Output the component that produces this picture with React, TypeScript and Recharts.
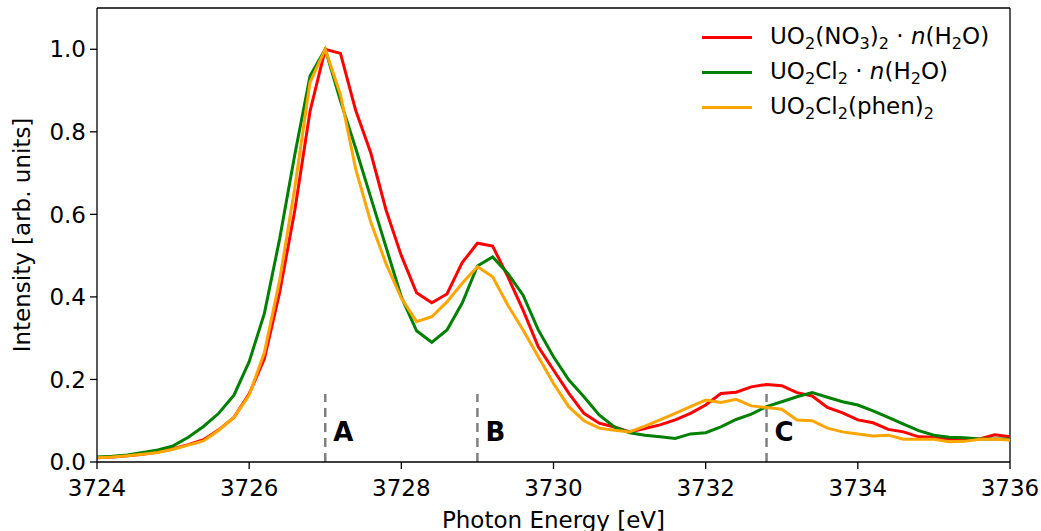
import React from "react";
import {
  LineChart,
  Line,
  XAxis,
  YAxis,
  ReferenceLine,
  ReferenceDot,
  Legend,
} from "recharts";

const FONT = "'DejaVu Sans', sans-serif";

// photon energy grid [eV]
const energy = [
  3724.0, 3724.2, 3724.4, 3724.6, 3724.8, 3725.0, 3725.2, 3725.4, 3725.6, 3725.8,
  3726.0, 3726.2, 3726.4, 3726.6, 3726.8, 3727.0, 3727.2, 3727.4, 3727.6, 3727.8,
  3728.0, 3728.2, 3728.4, 3728.6, 3728.8, 3729.0, 3729.2, 3729.4, 3729.6, 3729.8,
  3730.0, 3730.2, 3730.4, 3730.6, 3730.8, 3731.0, 3731.2, 3731.4, 3731.6, 3731.8,
  3732.0, 3732.2, 3732.4, 3732.6, 3732.8, 3733.0, 3733.2, 3733.4, 3733.6, 3733.8,
  3734.0, 3734.2, 3734.4, 3734.6, 3734.8, 3735.0, 3735.2, 3735.4, 3735.6, 3735.8,
  3736.0,
];

// UO2(NO3)2 · n(H2O)
const nitrate = [
  0.010, 0.012, 0.015, 0.019, 0.024, 0.032, 0.042, 0.054, 0.078, 0.108,
  0.165, 0.25, 0.41, 0.61, 0.85, 1.0, 0.99, 0.852, 0.748, 0.61,
  0.50, 0.41, 0.386, 0.407, 0.483, 0.53, 0.523, 0.449, 0.368, 0.279,
  0.223, 0.167, 0.118, 0.094, 0.085, 0.073, 0.081, 0.09, 0.102, 0.118,
  0.138, 0.166, 0.169, 0.182, 0.188, 0.185, 0.168, 0.160, 0.132, 0.119,
  0.102, 0.095, 0.079, 0.073, 0.061, 0.060, 0.056, 0.057, 0.056, 0.066,
  0.061,
];

// UO2Cl2 · n(H2O)
const chloride = [
  0.012, 0.014, 0.017, 0.023, 0.029, 0.039, 0.06, 0.086, 0.118, 0.162,
  0.243, 0.36, 0.54, 0.745, 0.935, 1.0, 0.875, 0.76, 0.64, 0.52,
  0.40, 0.318, 0.29, 0.32, 0.385, 0.475, 0.497, 0.457, 0.404, 0.32,
  0.255, 0.199, 0.158, 0.114, 0.085, 0.071, 0.065, 0.061, 0.057, 0.068,
  0.071, 0.085, 0.103, 0.116, 0.134, 0.146, 0.158, 0.168, 0.157, 0.146,
  0.138, 0.124, 0.108, 0.092, 0.076, 0.065, 0.060, 0.059, 0.056, 0.056,
  0.056,
];

// UO2Cl2(phen)2
const phen = [
  0.010, 0.012, 0.015, 0.019, 0.023, 0.031, 0.041, 0.051, 0.077, 0.108,
  0.162, 0.265, 0.44, 0.665, 0.92, 1.0, 0.89, 0.71, 0.58, 0.48,
  0.397, 0.34, 0.352, 0.388, 0.433, 0.473, 0.449, 0.38, 0.32, 0.255,
  0.19, 0.134, 0.10, 0.082, 0.077, 0.073, 0.087, 0.102, 0.118, 0.134,
  0.15, 0.144, 0.152, 0.136, 0.132, 0.128, 0.102, 0.10, 0.082, 0.073,
  0.068, 0.063, 0.065, 0.055, 0.055, 0.055, 0.049, 0.05, 0.055, 0.055,
  0.053,
];

const xTicks = [3724, 3726, 3728, 3730, 3732, 3734, 3736];
const yTicks = [0, 0.2, 0.4, 0.6, 0.8, 1.0];

const peakNames = ["A", "B", "C"];
const peakEnergies = [3727.0, 3729.0, 3732.8];

// _X = subscript, $x$ = italic
const seriesKeys = ["nitrate", "chloride", "phen"];
const seriesNames = [
  "UO_2(NO_3)_2 · $n$(H_2O)",
  "UO_2Cl_2 · $n$(H_2O)",
  "UO_2Cl_2(phen)_2",
];
const seriesColors = ["#ff0000", "#008000", "#ffa500"];

const data = energy.map((e, i) => ({
  energy: e,
  nitrate: nitrate[i],
  chloride: chloride[i],
  phen: phen[i],
}));

function formula(s: string) {
  return s.split(/(_\d|\$[^$]+\$)/).map((p, i) => {
    if (p.startsWith("_"))
      return (
        <span key={i} style={{ fontSize: "0.7em", position: "relative", top: "0.3em" }}>
          {p.slice(1)}
        </span>
      );
    if (p.startsWith("$")) return <i key={i}>{p.slice(1, -1)}</i>;
    return <span key={i}>{p}</span>;
  });
}

function LegendBox() {
  return (
    <div style={{ fontFamily: FONT, fontSize: 23, color: "#000" }}>
      {seriesNames.map((name, i) => (
        <div key={name} style={{ display: "flex", alignItems: "center", height: 35 }}>
          <span
            style={{
              display: "inline-block",
              width: 50,
              height: 3,
              background: seriesColors[i],
              marginRight: 18,
            }}
          />
          <span style={{ whiteSpace: "nowrap", lineHeight: "35px" }}>{formula(name)}</span>
        </div>
      ))}
    </div>
  );
}

export default function App() {
  return (
    <div style={{ position: "absolute", left: 0, top: 0, fontFamily: FONT }}>
      <LineChart
        width={1041}
        height={531}
        data={data}
        margin={{ top: 8, right: 31, bottom: 0, left: 0 }}
      >
        <XAxis
          dataKey="energy"
          type="number"
          domain={[3724, 3736]}
          ticks={xTicks}
          allowDataOverflow
          height={69}
          tickSize={7}
          tickMargin={11}
          axisLine={{ stroke: "#000", strokeWidth: 1.3 }}
          tickLine={{ stroke: "#000", strokeWidth: 1.3 }}
          tick={{ fill: "#000", fontSize: 23, fontFamily: FONT }}
          label={{
            value: "Photon Energy [eV]",
            position: "insideBottom",
            offset: 3,
            fill: "#000",
            fontSize: 23,
            fontFamily: FONT,
          }}
        />
        <YAxis
          type="number"
          domain={[0, 1.1]}
          ticks={yTicks}
          allowDataOverflow
          width={97}
          tickSize={7}
          tickMargin={4}
          tickFormatter={(v: number) => v.toFixed(1)}
          axisLine={{ stroke: "#000", strokeWidth: 1.3 }}
          tickLine={{ stroke: "#000", strokeWidth: 1.3 }}
          tick={{ fill: "#000", fontSize: 23, fontFamily: FONT }}
          label={{
            value: "Intensity [arb. units]",
            angle: -90,
            position: "insideLeft",
            offset: 22,
            fill: "#000",
            fontSize: 23,
            fontFamily: FONT,
            style: { textAnchor: "middle" },
          }}
        />
        <ReferenceLine y={1.1} stroke="#000" strokeWidth={1.3} />
        <ReferenceLine x={3736} stroke="#000" strokeWidth={1.3} />
        {peakEnergies.map((e, i) => (
          <ReferenceLine
            key={peakNames[i]}
            segment={[
              { x: e, y: 0 },
              { x: e, y: 0.165 },
            ]}
            stroke="#808080"
            strokeWidth={2.5}
            strokeDasharray="9 6"
          />
        ))}
        {peakEnergies.map((e, i) => (
          <ReferenceDot
            key={"lbl" + peakNames[i]}
            x={e}
            y={0.073}
            r={0}
            stroke="none"
            fill="none"
            label={{
              value: peakNames[i],
              position: "right",
              offset: 8,
              fill: "#000",
              fontSize: 26,
              fontWeight: "bold",
              fontFamily: FONT,
            }}
          />
        ))}
        {seriesKeys.map((k, i) => (
          <Line
            key={k}
            type="linear"
            dataKey={k}
            name={seriesNames[i]}
            stroke={seriesColors[i]}
            strokeWidth={3}
            dot={false}
            activeDot={false}
            isAnimationActive={false}
          />
        ))}
        <Legend
          layout="vertical"
          align="center"
          verticalAlign="middle"
          content={() => <LegendBox />}
          wrapperStyle={{ left: 702, top: 20, width: 320, height: 110 }}
        />
      </LineChart>
    </div>
  );
}
